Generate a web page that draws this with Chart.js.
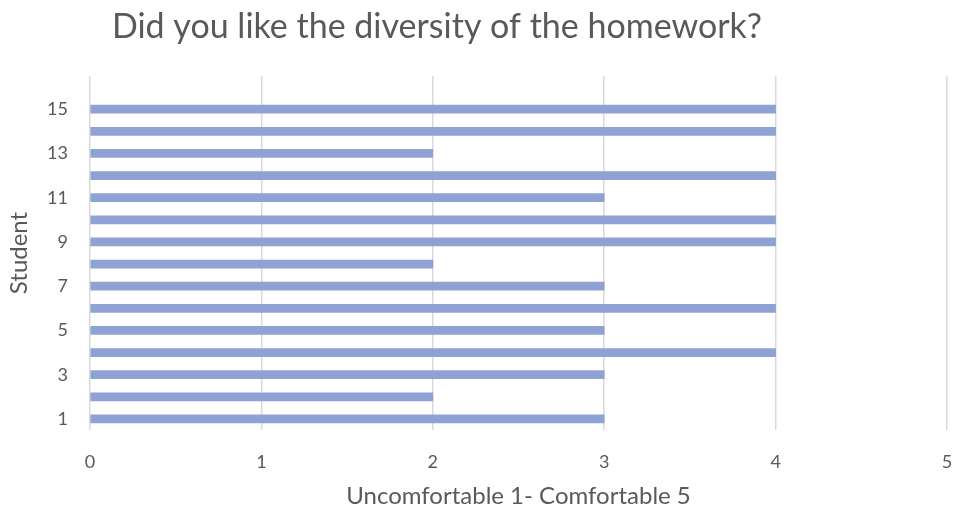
<!DOCTYPE html>
<html>
<head>
<meta charset="utf-8">
<script src="https://cdn.jsdelivr.net/npm/chart.js@4"></script>
<style>
  html, body { margin: 0; padding: 0; background: #fff; }
  #wrap { width: 953px; height: 516px; }
</style>
</head>
<body>
<div id="wrap"><canvas id="chart" width="953" height="516"></canvas></div>
<script>
// students 1..16 (16th has no answer, only its slot shows)
const students = ['1','2','3','4','5','6','7','8','9','10','11','12','13','14','15','16'];
const ratings = [3, 2, 3, 4, 3, 4, 3, 2, 4, 4, 3, 4, 2, 4, 4, null];
const xTicks = [0, 1, 2, 3, 4, 5];
const chartTitle = 'Did you like the diversity of the homework?';

const textColor = '#595959';
const fontFam = 'Lato, "Open Sans", sans-serif';

// title sits left of centre in the original, so draw it by hand
const titleDraw = {
  id: 'titleDraw',
  afterDraw(chart) {
    const c = chart.ctx;
    c.save();
    c.font = '34px ' + fontFam;
    c.fillStyle = textColor;
    c.textAlign = 'center';
    c.textBaseline = 'middle';
    c.fillText(chartTitle, 437, 27);
    c.restore();
  }
};

new Chart(document.getElementById('chart'), {
  type: 'bar',
  data: {
    labels: students,
    datasets: [{
      data: ratings,
      backgroundColor: '#8FA2D4',
      barThickness: 8,
      borderWidth: 0
    }]
  },
  options: {
    indexAxis: 'y',
    responsive: false,
    animation: false,
    layout: { padding: { left: 0, right: 6, top: 76, bottom: 0 } },
    plugins: {
      legend: { display: false },
      tooltip: { enabled: false },
      title: { display: false }
    },
    scales: {
      x: {
        min: xTicks[0],
        max: xTicks[xTicks.length - 1],
        afterBuildTicks: s => { s.ticks = xTicks.map(v => ({ value: v })); },
        afterFit: s => { s.height = 86; s.paddingLeft = 0; s.paddingRight = 0; },
        grid: { color: '#d9d9d9', lineWidth: 1.5, drawTicks: false },
        border: { display: false },
        ticks: { color: textColor, padding: 21, font: { family: fontFam, size: 18 } },
        title: {
          display: true,
          text: 'Uncomfortable 1- Comfortable 5',
          color: textColor,
          font: { family: fontFam, size: 24 },
          padding: { top: 0, bottom: 5 }
        }
      },
      y: {
        reverse: true,
        afterFit: s => { s.width = 90; s.paddingTop = 0; s.paddingBottom = 0; },
        grid: { display: false, drawTicks: false },
        border: { display: false },
        ticks: {
          color: textColor,
          padding: 22,
          autoSkip: false,
          font: { family: fontFam, size: 18 },
          callback: function(v, i) { return i % 2 === 0 ? this.getLabelForValue(v) : ''; }
        },
        title: {
          display: true,
          text: 'Student',
          color: textColor,
          font: { family: fontFam, size: 24 },
          padding: { top: 5, bottom: 0 }
        }
      }
    }
  },
  plugins: [titleDraw]
});
</script>
</body>
</html>
